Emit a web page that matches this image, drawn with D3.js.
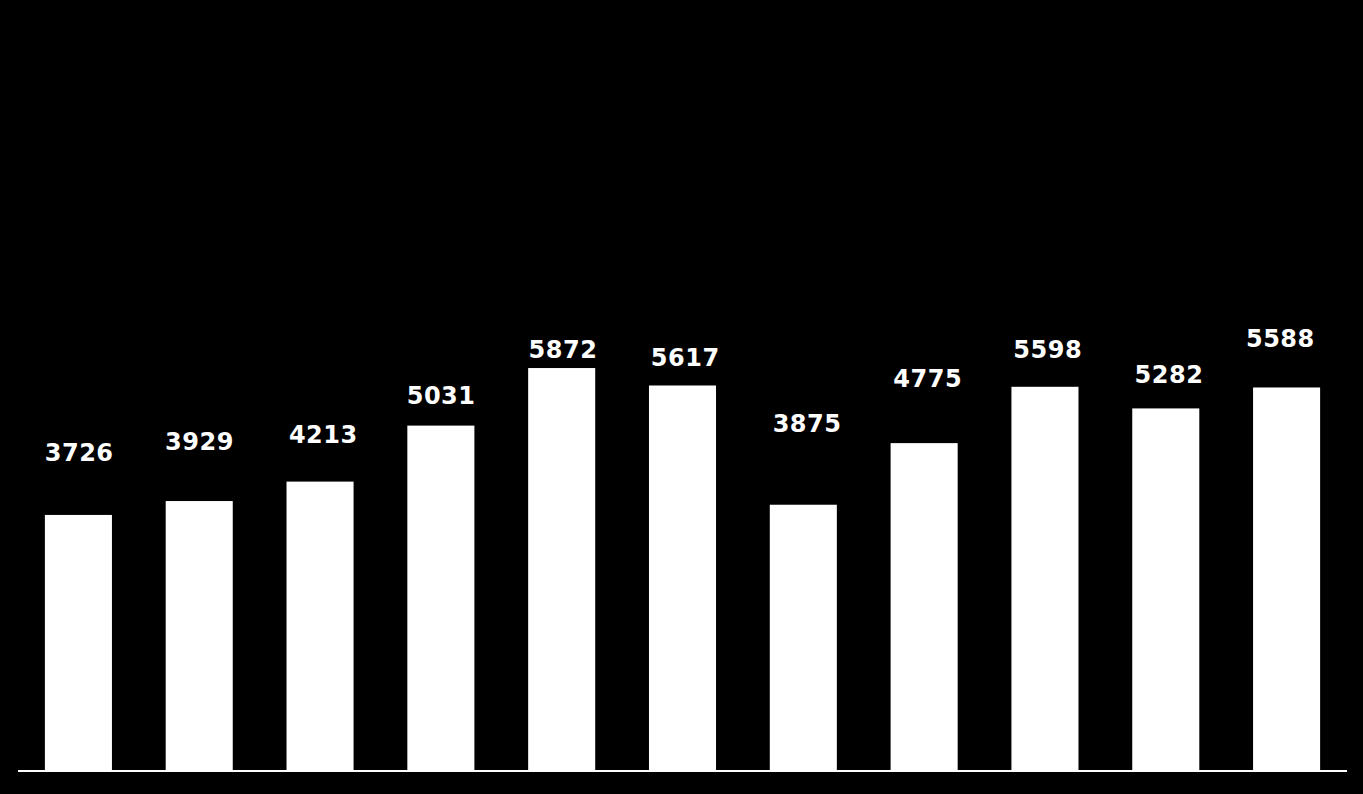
<!DOCTYPE html>
<html>
<head>
<meta charset="utf-8">
<script src="https://cdn.jsdelivr.net/npm/d3@7"></script>
<style>
  html, body { margin: 0; padding: 0; background: #000; }
  svg { display: block; }
</style>
</head>
<body>
<svg id="chart" width="1363" height="794"></svg>
<script>
// ---- data ----
const categories = ["A", "B", "C", "D", "E", "F", "G", "H", "I", "J", "K"];
const values = [3726, 3929, 4213, 5031, 5872, 5617, 3875, 4775, 5598, 5282, 5588];
// label placement tweaks as seen in the reference (pixels)
const labelShiftX = [0.5, 0, 3, 0, 1, 2.5, 3.5, 3.3, 2.5, 3, -6.5];
const labelGap = [54, 51, 39, 22, 10, 19, 73, 56, 29, 25, 40];

// ---- layout ----
const W = 1363, H = 794;
const svg = d3.select("#chart");
svg.append("rect").attr("width", W).attr("height", H).attr("fill", "#000");

const x = d3.scaleBand()
  .domain(categories)
  .range([18, 1347])
  .paddingInner(0.445)
  .paddingOuter(0.2225);

const y = d3.scaleLinear()
  .domain([0, 11000])
  .range([770, 17]);

const data = categories.map((c, i) => ({ c, v: values[i], dx: labelShiftX[i], gap: labelGap[i] }));

svg.append("g").selectAll("rect")
  .data(data)
  .join("rect")
  .attr("x", d => x(d.c))
  .attr("y", d => y(d.v))
  .attr("width", x.bandwidth())
  .attr("height", d => y(0) - y(d.v))
  .attr("fill", "#fff");

svg.append("line")
  .attr("x1", 18).attr("x2", 1347)
  .attr("y1", 771).attr("y2", 771)
  .attr("stroke", "#fff").attr("stroke-width", 2);

svg.append("g").selectAll("text")
  .data(data)
  .join("text")
  .attr("x", d => x(d.c) + x.bandwidth() / 2 + d.dx + 0.25)
  .attr("y", d => y(d.v) - d.gap)
  .attr("text-anchor", "middle")
  .attr("fill", "#fff")
  .style("font-family", "'DejaVu Sans', sans-serif")
  .style("font-weight", "bold")
  .style("font-size", "24px")
  .style("letter-spacing", "0.5px")
  .text(d => d.v);
</script>
</body>
</html>
